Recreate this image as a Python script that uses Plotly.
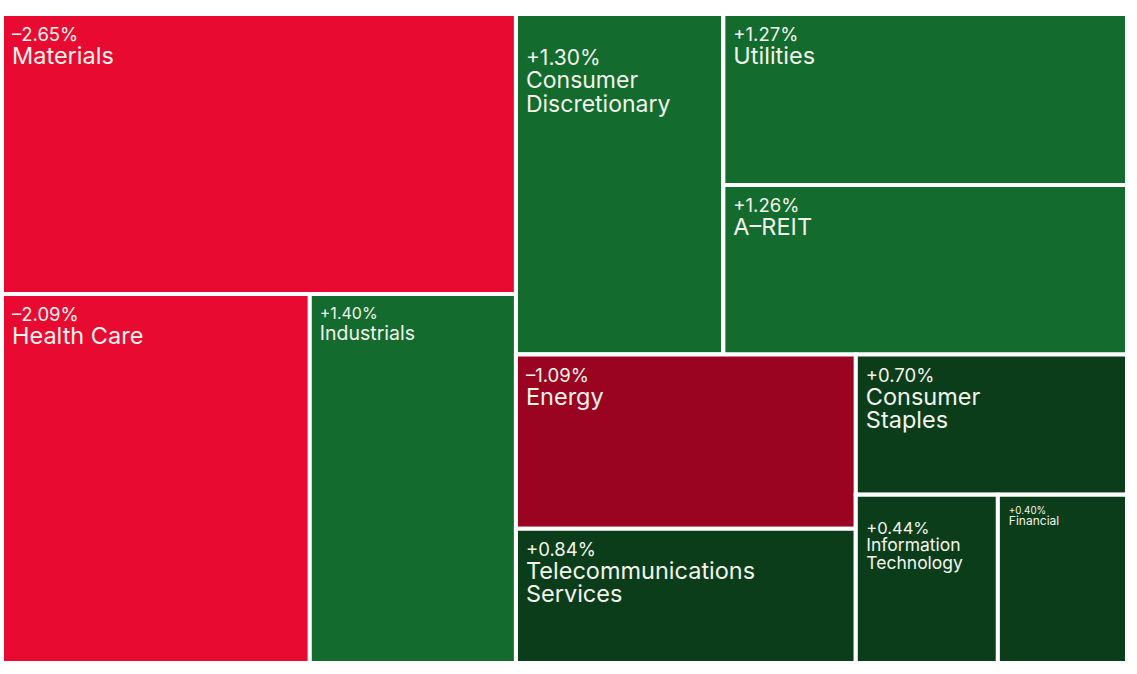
import plotly.graph_objects as go

# ---- data ----
sectors = ["Materials", "Health Care", "Industrials", "Consumer Discretionary", "Utilities",
           "A-REIT", "Energy", "Telecommunications Services", "Consumer Staples",
           "Information Technology", "Financial"]
display_names = ["Materials", "Health Care", "Industrials", "Consumer<br>Discretionary", "Utilities",
                 "A\u2013REIT", "Energy", "Telecommunications<br>Services", "Consumer<br>Staples",
                 "Information<br>Technology", "Financial"]
changes = [-2.65, -2.09, 1.40, 1.30, 1.27, 1.26, -1.09, 0.84, 0.70, 0.44, 0.40]

# invisible grouping nodes that give the tile arrangement (node order = drawing order)
node_order = ["root", "L", "Materials", "L2", "Health Care", "Industrials",
              "R", "RT", "Consumer Discretionary", "RT2", "Utilities", "A-REIT",
              "RB", "RB1", "Energy", "Telecommunications Services",
              "RB2", "Consumer Staples", "RB3", "Information Technology", "Financial"]
node_parent = ["", "root", "L", "L", "L2", "L2",
               "root", "R", "RT", "RT", "RT2", "RT2",
               "R", "RB", "RB1", "RB1",
               "RB", "RB2", "RB2", "RB3", "RB3"]

# ---- styles ----
colors = ["#E80A31", "#E80A31", "#136B2E", "#136B2E", "#136B2E", "#136B2E",
          "#9A0420", "#0B3D1B", "#0B3D1B", "#0B3D1B", "#0B3D1B"]
base_sizes = [17.7, 17.7, 16, 18, 17.7, 17.7, 17.7, 17.7, 17.7, 13.5, 8.5]
pct_sizes = [18.5, 18.5, 16, 21, 18.5, 18.5, 18.5, 18.5, 18.5, 16.5, 9.8]
label_sizes = [23.5, 23.5, 19.5, 23, 23.5, 23.5, 23.5, 23.5, 23.5, 17.5, 12]
lead_lines = [1, 1, 1, 2, 1, 1, 1, 1, 1, 2, 1]
indents = [7, 7, 7, 7, 7, 7, 7, 7, 7, 7.5, 8]

sizes = [abs(c) for c in changes]


def fmt(c):
    return ("+" if c > 0 else "\u2013") + f"{abs(c):.2f}%"


texts = []
for c, n, ps, ls, nl, ind in zip(changes, display_names, pct_sizes, label_sizes,
                                  lead_lines, indents):
    lead = "<span style=\"font-size:1px\">\u00a0</span><br>" * nl
    sp = f"<span style=\"font-size:{2 * ind}px\">\u2002</span>"
    pct = sp + f"<span style=\"font-size:{ps}px\">{fmt(c)}</span>"
    lines = n.split("<br>")
    lab = "<br>".join(sp + f"<span style=\"font-size:{ls}px\">{l}</span>" for l in lines)
    texts.append(lead + pct + "<br>" + lab)

labels, values, all_text, all_colors, all_sizes = [], [], [], [], []
for nid in node_order:
    if nid in sectors:
        i = sectors.index(nid)
        labels.append(nid)
        values.append(sizes[i])
        all_text.append(texts[i])
        all_colors.append(colors[i])
        all_sizes.append(base_sizes[i])
    else:
        labels.append("")
        values.append(0)
        all_text.append("")
        all_colors.append("white")
        all_sizes.append(12)

fig = go.Figure(go.Treemap(
    ids=node_order,
    labels=labels,
    parents=node_parent,
    values=values,
    branchvalues="remainder",
    text=all_text,
    texttemplate="%{text}",
    textposition="top left",
    textfont=dict(family="Inter, Lato, sans-serif", color="#F3F4EC", size=all_sizes),
    marker=dict(colors=all_colors, line=dict(color="white", width=4),
                pad=dict(t=0, l=0, r=0, b=0)),
    tiling=dict(packing="slice-dice", pad=0),
    pathbar=dict(visible=False),
    sort=False,
    hoverinfo="skip",
))

fig.update_layout(
    width=1137, height=674,
    margin=dict(l=2, r=10, t=14, b=11),
    paper_bgcolor="white",
    showlegend=False,
)

fig.write_html("out.html", config={"displayModeBar": False},
               post_script="document.body.style.margin='0';")
